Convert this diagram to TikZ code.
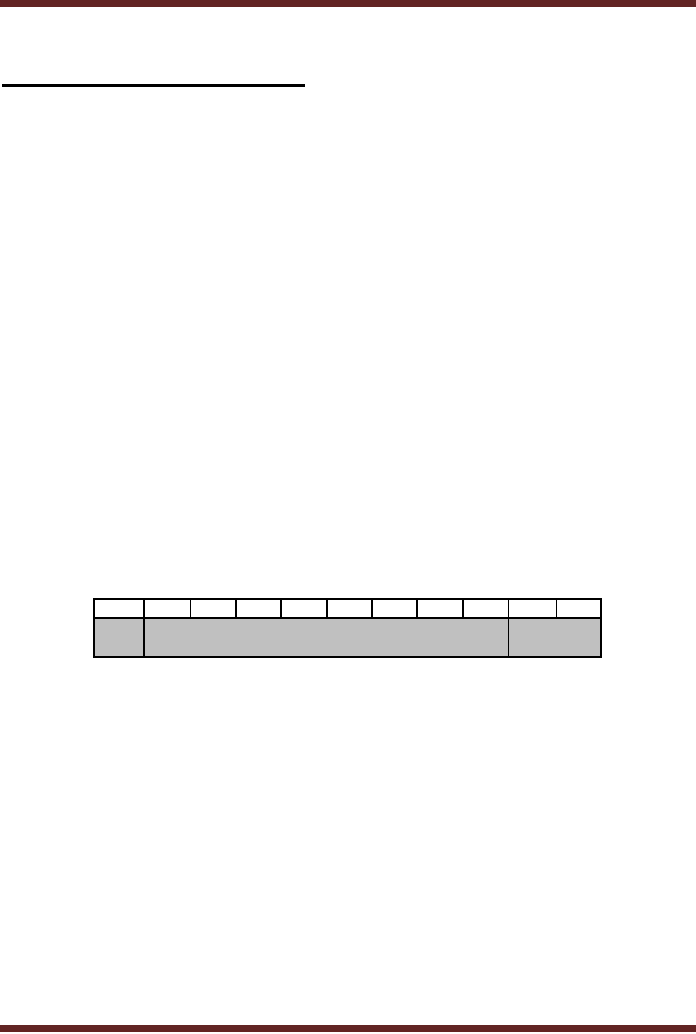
\documentclass[tikz,border=0pt]{standalone}
\definecolor{barred}{RGB}{98,36,35}
\definecolor{cellgrey}{RGB}{192,192,192}
\begin{document}
\begin{tikzpicture}[x=1pt,y=-1pt,
  bar/.style={fill=barred,draw=none},
  thickline/.style={line width=1.6pt},
  midline/.style={line width=1.2pt},
  thinline/.style={line width=0.8pt}]
\useasboundingbox (0,0) rectangle (696,1034);
\fill[white] (0,0) rectangle (696,1034);
% page bars
\path[bar] (0,0) rectangle (696,7);
\path[bar] (0,1025) rectangle (696,1032);
% heading underline
\fill[black] (2,84) rectangle (305,87);
% table
\coordinate (tl) at (94,599);
\coordinate (br) at (601,657);
\fill[cellgrey] (94,618) rectangle (601,657);
\draw[midline] (94,618) -- (601,618);
\foreach \x in {236,281,327,372,417,463}
  \draw[midline] (\x,599) -- (\x,618);
\draw[thinline] (190,599) -- (190,618);
\draw[thinline] (556,599) -- (556,618);
\draw[midline] (144,599) -- (144,657);
\draw[thinline] (508,599) -- (508,657);
\draw[thickline] (tl) rectangle (br);
\end{tikzpicture}
\end{document}
